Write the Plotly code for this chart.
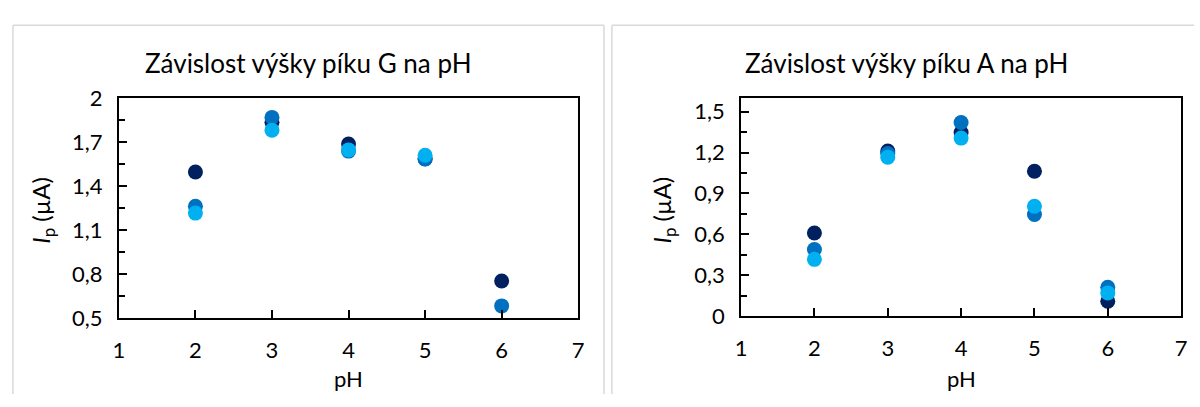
import plotly.graph_objects as go

W, H = 1200, 407

ph = [2, 3, 4, 5, 6]

# peak G (left chart): three series
g_s1 = [1.495, 1.835, 1.686, 1.585, 0.752]
g_s2 = [1.262, 1.868, 1.638, 1.584, 0.582]
g_s3 = [1.215, 1.781, 1.646, 1.610, None]

# peak A (right chart)
a_s1 = [0.609, 1.211, 1.347, 1.063, 0.109]
a_s2 = [0.488, 1.193, 1.420, 0.745, 0.211]
a_s3 = [0.416, 1.166, 1.306, 0.806, 0.170]

colors = ['#002060', '#0070C0', '#00B0F0']

x_ticks = [1, 2, 3, 4, 5, 6, 7]
g_yticks = [0.5, 0.8, 1.1, 1.4, 1.7, 2.0]
g_ylabels = ['0,5', '0,8', '1,1', '1,4', '1,7', '2']
a_yticks = [0, 0.3, 0.6, 0.9, 1.2, 1.5]
a_ylabels = ['0', '0,3', '0,6', '0,9', '1,2', '1,5']

FONT = 'Lato, Carlito, Calibri, sans-serif'


def px_x(p):
    return p / W


def px_y(p):
    return 1 - p / H


fig = go.Figure()

for ys, c in zip([g_s1, g_s2, g_s3], colors):
    fig.add_trace(go.Scatter(x=ph, y=ys, mode='markers', xaxis='x', yaxis='y',
                             marker=dict(size=15, color=c), showlegend=False))
for ys, c in zip([a_s1, a_s2, a_s3], colors):
    fig.add_trace(go.Scatter(x=ph, y=ys, mode='markers', xaxis='x2', yaxis='y2',
                             marker=dict(size=15, color=c), showlegend=False))

axis_common = dict(showgrid=False, zeroline=False, showline=True, mirror=True,
                   linecolor='black', linewidth=2, ticks='inside', ticklen=8,
                   tickwidth=2, tickcolor='black',
                   tickfont=dict(family=FONT, size=22, color='black'))
minor_common = dict(dtick=0.15, ticks='inside', ticklen=6, tickwidth=2,
                    tickcolor='black')

fig.update_layout(
    width=W, height=H,
    margin=dict(l=0, r=0, t=0, b=0),
    paper_bgcolor='white', plot_bgcolor='white',
    xaxis=dict(axis_common, domain=[px_x(114), px_x(578)], range=[1, 7],
               tickvals=x_ticks, anchor='y', ticklabelstandoff=12),
    yaxis=dict(axis_common, domain=[px_y(325.5), px_y(90)], range=[0.5, 2.0],
               tickvals=g_yticks, ticktext=g_ylabels, anchor='x',
               ticklabelstandoff=10, minor=dict(minor_common, tick0=0.5)),
    xaxis2=dict(axis_common, domain=[px_x(742.5), px_x(1187)], range=[1, 7],
                tickvals=x_ticks, anchor='y2', ticklabelstandoff=12),
    yaxis2=dict(axis_common, domain=[px_y(323.5), px_y(90)], range=[0, 1.6],
                tickvals=a_yticks, ticktext=a_ylabels, anchor='x2',
                ticklabelstandoff=10, minor=dict(minor_common, tick0=0)),
)

# chart-area borders, kept inside the page (the rest is cut off in the original)
border = dict(color='#D9D9D9', width=1.5)
edges = [
    (7, 12, 7, 407), (7, 12, 604, 12), (604, 12, 604, 407),   # left chart
    (612, 12, 612, 407), (612, 12, 1200, 12),                 # right chart
]
for x0, y0, x1, y1 in edges:
    fig.add_shape(type='line', xref='paper', yref='paper',
                  x0=px_x(x0), y0=px_y(y0), x1=px_x(x1), y1=px_y(y1),
                  line=border, layer='below')

titles = [('Závislost výšky píku G na pH', 306), ('Závislost výšky píku A na pH', 910)]
for txt, cx in titles:
    fig.add_annotation(text=txt, x=px_x(cx), y=px_y(53), xref='paper', yref='paper',
                       showarrow=False, xanchor='center', yanchor='middle',
                       font=dict(family=FONT, size=26, color='black'))

for cx in [346, 965]:
    fig.add_annotation(text='pH', x=px_x(cx), y=px_y(390), xref='paper', yref='paper',
                       showarrow=False, xanchor='center', yanchor='middle',
                       font=dict(family=FONT, size=22, color='black'))

for cx in [36, 664]:
    fig.add_annotation(text='<i>I</i><sub>p</sub> (µA)', x=px_x(cx), y=px_y(210),
                       xref='paper', yref='paper', textangle=-90,
                       showarrow=False, xanchor='center', yanchor='middle',
                       font=dict(family=FONT, size=24, color='black'))

# drop the default body margin so the figure sits at the window's top-left corner
fig.write_html("out.html", config={'displayModeBar': False},
               post_script="document.body.style.margin='0';")
